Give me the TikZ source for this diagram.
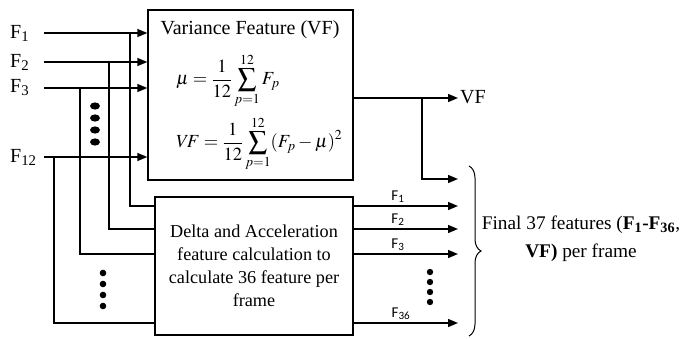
\documentclass[tikz,border=0pt]{standalone}
\usepackage{mathptmx}
\usepackage{fontspec}
\setmainfont{Liberation Serif}
\newfontfamily\calib{Carlito}
\usetikzlibrary{arrows.meta,decorations.pathreplacing}
\begin{document}
\begin{tikzpicture}[x=1pt,y=-1pt,
  line/.style={line width=1.4pt},
  arr/.style={line width=1.4pt,-{Triangle[length=10pt,width=8pt]}},
  boxs/.style={draw,line width=1.4pt,inner sep=0pt},
  lab/.style={font=\fontsize{20}{24}\selectfont,inner sep=0pt},
  eq/.style={font=\fontsize{18.5}{22}\selectfont,inner sep=0pt},
  olab/.style={font=\calib\fontsize{15}{17}\selectfont,inner sep=0pt,anchor=south},
  dotc/.style={fill=black,draw=none}]
\useasboundingbox (0,0) rectangle (683,338);
% boxes
\node[boxs,minimum width=205pt,minimum height=170pt] (vf) at (250.5,95) {};
\node[boxs,minimum width=198pt,minimum height=138pt,align=center,
  font=\fontsize{18.2}{23}\selectfont] (dl) at (254,266)
  {Delta and Acceleration\\feature calculation to\\calculate 36 feature per\\frame};
% text in VF box
\node[lab] (title) at (250,30) {Variance Feature (VF)};
\node[eq,anchor=west] (mueq) at (176,81)
  {$\displaystyle \mu=\frac{1}{12}\sum_{p=1}^{12}F_p$};
\node[eq,anchor=west] (vfeq) at (176,144)
  {$\displaystyle V\!F=\frac{1}{12}\sum_{p=1}^{12}(F_p-\mu)^2$};
% input labels
\node[lab,anchor=west] (L1) at (10,33) {F\textsubscript{1}};
\node[lab,anchor=west] (L2) at (10,62) {F\textsubscript{2}};
\node[lab,anchor=west] (L3) at (10,88) {F\textsubscript{3}};
\node[lab,anchor=west] (L12) at (10,157) {F\textsubscript{12}};
% start points
\coordinate (s1) at (44,33);
\coordinate (s2) at (44,62);
\coordinate (s3) at (44,88);
\coordinate (s12) at (44,157);
\draw[arr] (s1) -- (s1 -| vf.west);
\draw[arr] (s2) -- (s2 -| vf.west);
\draw[arr] (s3) -- (s3 -| vf.west);
\draw[arr] (s12) -- (s12 -| vf.west);
% junctions and branches to delta box
\coordinate (j1) at (130,33);
\coordinate (j2) at (109,62);
\coordinate (j3) at (80,88);
\coordinate (j12) at (54,157);
\coordinate (e1) at (155,206);
\coordinate (e2) at (155,229);
\coordinate (e3) at (155,254);
\coordinate (e12) at (155,323);
\draw[line] (j1) |- (e1);
\draw[line] (j2) |- (e2);
\draw[line] (j3) |- (e3);
\draw[line] (j12) |- (e12);
% dots left
\foreach \y in {106,118,130,142} \fill[dotc] (95,\y) ellipse (5pt and 3.6pt);
\foreach \y in {273,284,295,306} \fill[dotc] (103,\y) circle (3.3pt);
% outputs of delta box
\coordinate (t1) at (458,206);
\coordinate (t2) at (458,229);
\coordinate (t3) at (458,254);
\coordinate (t36) at (458,323);
\draw[arr] (t1 -| dl.east) -- (t1);
\draw[arr] (t2 -| dl.east) -- (t2);
\draw[arr] (t3 -| dl.east) -- (t3);
\draw[arr] (t36 -| dl.east) -- (t36);
\node[olab] (o1) at (398,203) {F\textsubscript{1}};
\node[olab] (o2) at (398,226) {F\textsubscript{2}};
\node[olab] (o3) at (398,251) {F\textsubscript{3}};
\node[olab] (o36) at (401,320) {F\textsubscript{36}};
\foreach \y in {272,282,292,302} \fill[dotc] (430,\y) circle (3.2pt);
% VF output
\coordinate (tv) at (458,98);
\coordinate (jv) at (422,98);
\coordinate (tb) at (458,179);
\draw[arr] (tv -| vf.east) -- (tv);
\node[lab,anchor=west] (vfout) at (460,97) {VF};
\draw[arr] (jv) |- (tb);
% brace
\draw[line width=1pt,decorate,decoration={brace,amplitude=12pt}]
  (469,166) -- (469,336);
\node[align=center,font=\fontsize{19.3}{28}\selectfont,inner sep=0pt] (fin) at (581,239)
  {Final 37 features (\textbf{F\textsubscript{1}-F\textsubscript{36}},\\\textbf{VF)} per frame};
\end{tikzpicture}
\end{document}
